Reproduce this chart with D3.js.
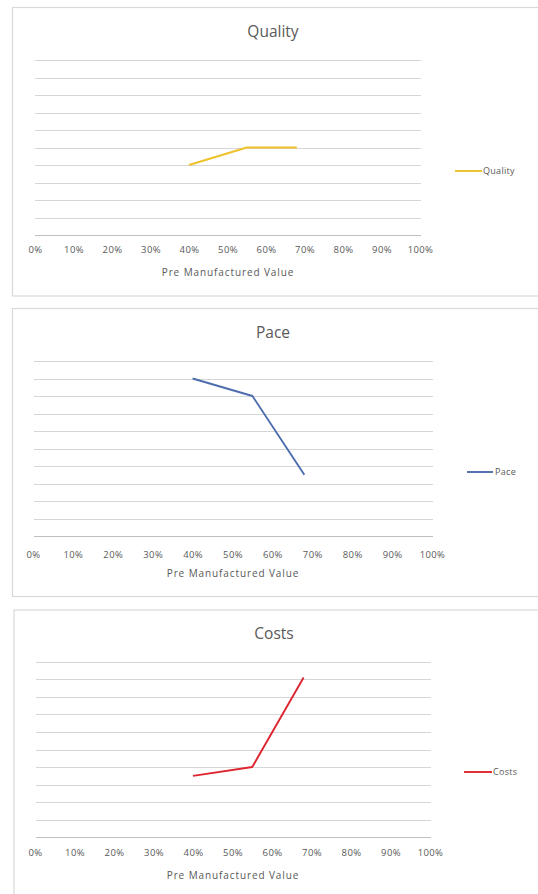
<!DOCTYPE html>
<html>
<head>
<meta charset="utf-8">
<script src="https://cdn.jsdelivr.net/npm/d3@7"></script>
<style>
  html, body { margin: 0; padding: 0; background: #ffffff; }
  svg { display: block; }
  text { font-family: "Open Sans", "Noto Sans", sans-serif; fill: #595959; }
</style>
</head>
<body>
<svg id="chart" width="538" height="894"></svg>
<script>
// ---- data ----
const xTickValues = [0, 10, 20, 30, 40, 50, 60, 70, 80, 90, 100];
const xTickLabels = ["0%", "10%", "20%", "30%", "40%", "50%", "60%", "70%", "80%", "90%", "100%"];
const preManufactured = [40, 55, 68];
const qualityValues = [4, 5, 5];
const paceValues = [9, 8, 3.5];
const costsValues = [3.5, 4, 9.1];
const seriesNames = ["Quality", "Pace", "Costs"];
const xAxisTitle = "Pre Manufactured Value";
const yDomain = [0, 10];

// ---- layout (styling only) ----
const panels = [
  { name: seriesNames[0], values: qualityValues, color: "#EFC12A",
    box: { x: 12.5, y: 7.5, w: 540, h: 288.5 },
    gx: [35, 421], sx: [35, 420], gy: [235, 60],
    tickY: 250, axisTitle: { x: 228, y: 276 }, title: { x: 273, y: 37 },
    legend: { x1: 455, x2: 482, y: 171, tx: 483 } },
  { name: seriesNames[1], values: paceValues, color: "#4E6DAE",
    box: { x: 12.5, y: 308.5, w: 540, h: 288 },
    gx: [34, 433], sx: [33, 432], gy: [536, 361],
    tickY: 555, axisTitle: { x: 233, y: 577 }, title: { x: 273, y: 338 },
    legend: { x1: 467, x2: 493, y: 472, tx: 495 } },
  { name: seriesNames[2], values: costsValues, color: "#DE2530",
    box: { x: 14, y: 610, w: 540, h: 300 },
    gx: [36, 431], sx: [35, 430], gy: [837.3, 661.7],
    tickY: 853, axisTitle: { x: 233, y: 879 }, title: { x: 274, y: 639 },
    legend: { x1: 464, x2: 492, y: 772, tx: 493 } }
];

const svg = d3.select("#chart");

panels.forEach(p => {
  const g = svg.append("g");

  g.append("rect")
    .attr("x", p.box.x).attr("y", p.box.y)
    .attr("width", p.box.w).attr("height", p.box.h)
    .attr("fill", "#ffffff")
    .attr("stroke", "#D9D9D9").attr("stroke-width", 1.2);

  const x = d3.scaleLinear().domain([0, 100]).range(p.sx);
  const y = d3.scaleLinear().domain(yDomain).range(p.gy);

  // gridlines
  g.append("g").selectAll("line")
    .data(d3.range(yDomain[0], yDomain[1] + 1))
    .join("line")
    .attr("x1", p.gx[0]).attr("x2", p.gx[1])
    .attr("y1", d => Math.round(y(d)) + 0.5).attr("y2", d => Math.round(y(d)) + 0.5)
    .attr("stroke", d => d === 0 ? "#BFBFBF" : "#D6D6D6")
    .attr("stroke-width", 1);

  // x tick labels via axis
  const axis = d3.axisBottom(x)
    .tickValues(xTickValues)
    .tickFormat((d, i) => xTickLabels[i])
    .tickSize(0).tickPadding(0);
  const ag = g.append("g").attr("transform", `translate(0,${p.tickY})`).call(axis);
  ag.select(".domain").remove();
  ag.selectAll("text")
    .attr("y", 0)
    .attr("dy", "0.35em")
    .style("font-size", "9.5px")
    .style("letter-spacing", "0.4px")
    .style("fill", "#595959")
    .style("font-family", "\"Open Sans\", sans-serif");

  // title
  g.append("text")
    .attr("x", p.title.x).attr("y", p.title.y)
    .attr("text-anchor", "middle")
    .style("font-size", "15.5px")
    .text(p.name);

  // axis title
  g.append("text")
    .attr("x", p.axisTitle.x).attr("y", p.axisTitle.y)
    .attr("text-anchor", "middle")
    .style("font-size", "10px")
    .style("letter-spacing", "0.9px")
    .text(xAxisTitle);

  // line
  const pts = preManufactured.map((v, i) => [v, p.values[i]]);
  g.append("path")
    .datum(pts)
    .attr("fill", "none")
    .attr("stroke", p.color)
    .attr("stroke-width", 1.9)
    .attr("stroke-linejoin", "round")
    .attr("d", d3.line().x(d => x(d[0])).y(d => y(d[1])));

  // legend
  g.append("line")
    .attr("x1", p.legend.x1).attr("x2", p.legend.x2)
    .attr("y1", p.legend.y).attr("y2", p.legend.y)
    .attr("stroke", p.color).attr("stroke-width", 1.9);
  g.append("text")
    .attr("x", p.legend.tx).attr("y", p.legend.y + 3.2)
    .style("font-size", "9px")
    .style("letter-spacing", "0.3px")
    .text(p.name);
});
</script>
</body>
</html>
